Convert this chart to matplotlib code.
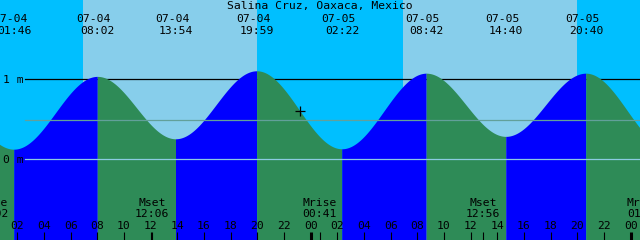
import numpy as np
import matplotlib
matplotlib.use('Agg')
from matplotlib import pyplot as plt
from matplotlib.transforms import blended_transform_factory

# tide extremes (first and last lie just outside the visible window)
tide_times = ["07-03 19:20", "07-04 01:46", "07-04 08:02", "07-04 13:54",
              "07-04 19:59", "07-05 02:22", "07-05 08:42", "07-05 14:40",
              "07-05 20:40", "07-06 02:55"]
tide_heights = [1.05, 0.12, 1.03, 0.25, 1.10, 0.125, 1.07, 0.28, 1.07, 0.13]
shown = range(1, 9)

sunrise = ["07-04 06:55", "07-05 06:55"]
sunset = ["07-04 19:58", "07-05 19:58"]

moon_names = ["Mrise", "Mset", "Mrise", "Mset", "Mrise"]
moon_times = ["07-04 00:02", "07-04 12:06", "07-05 00:41", "07-05 12:56",
              "07-06 01:00"]

now_time = "07-04 23:12"
title = "Salina Cruz, Oaxaca, Mexico"

T0, T1 = 0.7, 48.7
Y0, Y1 = -1.009, 1.991
PXH = 640 / 48.0

NIGHT = '#00BFFF'
DAY = '#87CEEB'
FLOOD = '#0000FF'
EBB = '#2E8B57'
FONT = 'DejaVu Sans Mono'
FS = 8.2


def hours(s):
    day, hm = s.split()
    d = int(day.split('-')[1]) - 4
    h, m = hm.split(':')
    return d * 24 + int(h) + int(m) / 60.0


def curve(tt, t_ext, h_ext):
    out = np.empty_like(tt)
    for i in range(len(t_ext) - 1):
        sel = (tt >= t_ext[i]) & (tt <= t_ext[i + 1])
        f = (tt[sel] - t_ext[i]) / (t_ext[i + 1] - t_ext[i])
        out[sel] = h_ext[i] + (h_ext[i + 1] - h_ext[i]) * (1 - np.cos(np.pi * f)) / 2
    return out


def ypx(p):
    return (240 - p) / 240.0


def main():
    t_ext = np.array([hours(s) for s in tide_times])
    h_ext = np.array(tide_heights)

    fig = plt.figure(figsize=(6.4, 2.4), dpi=100)
    ax = fig.add_axes([0, 0, 1, 1])
    ax.set_xlim(T0, T1)
    ax.set_ylim(Y0, Y1)
    ax.set_axis_off()
    tr = blended_transform_factory(ax.transData, fig.transFigure)

    # sky
    ax.axvspan(T0 - 5, T1 + 5, color=NIGHT, lw=0, zorder=0)
    for r, s in zip(sunrise, sunset):
        ax.axvspan(hours(r), hours(s), color=DAY, lw=0, zorder=1)

    # depth line sits behind the water
    xm = 25 / 640.0
    ax.axhline(1.0, xmin=xm, color='black', lw=0.9, zorder=1.5)

    # sea, coloured by flood / ebb
    for i in range(len(t_ext) - 1):
        tt = np.linspace(t_ext[i], t_ext[i + 1], 200)
        hh = curve(tt, t_ext, h_ext)
        col = FLOOD if h_ext[i + 1] > h_ext[i] else EBB
        ax.fill_between(tt, Y0 - 1, hh, color=col, lw=0, zorder=2)

    # mean level and datum lines over the water
    ax.axhline(0.49, xmin=xm, color='#62A09A', lw=0.9, zorder=3)
    ax.axhline(0.0, xmin=xm, color='#8CCBE2', lw=0.9, zorder=3)
    ax.text(2.7 / PXH + T0, ypx(83.3), "1 m", transform=tr, family=FONT,
            fontsize=FS, ha='left', va='baseline', zorder=5)
    ax.text(2.7 / PXH + T0, ypx(163.3), "0 m", transform=tr, family=FONT,
            fontsize=FS, ha='left', va='baseline', zorder=5)

    # title and extreme labels
    fig.text(0.5, ypx(9.5), title, family=FONT, fontsize=FS,
             ha='center', va='baseline')
    for i in shown:
        x = t_ext[i]
        date, hm = tide_times[i].split()
        ax.text(x - 4 / PXH, ypx(21.7), date, transform=tr, family=FONT,
                fontsize=FS, ha='center', va='baseline', zorder=5)
        ax.text(x, ypx(34), hm, transform=tr, family=FONT,
                fontsize=FS, ha='center', va='baseline', zorder=5)

    # hour ticks
    tick_h = 8 / 240.0
    for h in range(2, 49, 2):
        lw = 2.2 if h % 24 == 0 else 0.8
        ax.plot([h, h], [0, tick_h], transform=tr, color='black', lw=lw,
                solid_capstyle='butt', zorder=4)
        ax.text(h, ypx(229.3), "%02d" % (h % 24), transform=tr, family=FONT,
                fontsize=FS, ha='center', va='baseline', zorder=5)

    # moon events
    for name, s in zip(moon_names, moon_times):
        x = hours(s)
        ax.plot([x, x], [0, tick_h], transform=tr, color='black', lw=0.8,
                solid_capstyle='butt', zorder=4)
        ax.text(x, ypx(205.7), name, transform=tr, family=FONT,
                fontsize=FS, ha='center', va='baseline', zorder=5)
        ax.text(x, ypx(217.3), s.split()[1], transform=tr, family=FONT,
                fontsize=FS, ha='center', va='baseline', zorder=5)

    # current time marker
    tn = hours(now_time)
    hn = curve(np.array([tn]), t_ext, h_ext)[0]
    ax.plot([tn], [hn], marker='+', color='black', ms=6.5, mew=0.9, zorder=6)

    fig.savefig('out.png', dpi=100)


if __name__ == '__main__':
    main()
